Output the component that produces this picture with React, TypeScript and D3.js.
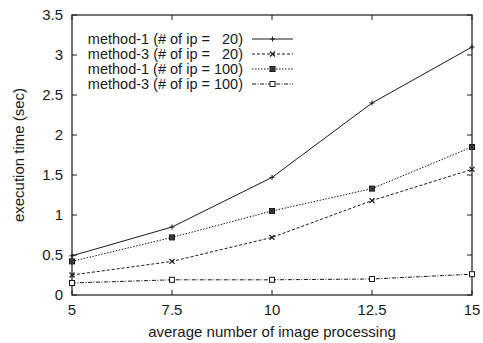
import React, { useEffect, useRef } from 'react';
import * as d3 from 'd3';

// dimensiones y márgenes
const W = 483;
const H = 343;
const margin = { top: 15, right: 11, bottom: 48, left: 72 };
const width = W - margin.left - margin.right;
const height = H - margin.top - margin.bottom;

// datos
const xValues = [5, 7.5, 10, 12.5, 15];
const m1ip20 = [0.49, 0.85, 1.47, 2.4, 3.1];
const m3ip20 = [0.25, 0.42, 0.72, 1.18, 1.57];
const m1ip100 = [0.42, 0.72, 1.05, 1.33, 1.85];
const m3ip100 = [0.15, 0.19, 0.19, 0.2, 0.26];

const xTicks = [5, 7.5, 10, 12.5, 15];
const yTicks = [0, 0.5, 1, 1.5, 2, 2.5, 3, 3.5];

const seriesNames = [
  'method-1 (# of ip =   20)',
  'method-3 (# of ip =   20)',
  'method-1 (# of ip = 100)',
  'method-3 (# of ip = 100)',
];

const series = [
  { name: seriesNames[0], values: m1ip20, dash: null, marker: 'plus' },
  { name: seriesNames[1], values: m3ip20, dash: '3,2', marker: 'cross' },
  { name: seriesNames[2], values: m1ip100, dash: '1.5,1.5', marker: 'boxcross' },
  { name: seriesNames[3], values: m3ip100, dash: '4,1.5,1,1.5', marker: 'box' },
];

const ink = '#1a1a1a';
const font = '"Liberation Sans", Arial, sans-serif';
const fs = '15px';

const App = () => {
  const svgRef = useRef(null);

  useEffect(() => {
    const svg = d3.select(svgRef.current);
    svg.selectAll('*').remove();

    const x = d3.scaleLinear().domain([5, 15]).range([0, width]);
    const y = d3.scaleLinear().domain([0, 3.5]).range([height, 0]);

    const g = svg.append('g').attr('transform', `translate(${margin.left},${margin.top})`);

    // marco
    g.append('rect')
      .attr('width', width).attr('height', height)
      .attr('fill', 'none').attr('stroke', ink).attr('stroke-width', 1.2);

    const tick = 5;
    // ticks eje x (abajo y arriba, hacia dentro)
    xTicks.forEach(t => {
      g.append('line').attr('x1', x(t)).attr('x2', x(t)).attr('y1', height).attr('y2', height - tick).attr('stroke', ink);
      g.append('line').attr('x1', x(t)).attr('x2', x(t)).attr('y1', 0).attr('y2', tick).attr('stroke', ink);
      g.append('text')
        .attr('x', x(t)).attr('y', height + 20)
        .attr('text-anchor', 'middle')
        .style('font-family', font).style('font-size', fs).attr('fill', ink)
        .text(String(t));
    });

    // ticks eje y
    yTicks.forEach(t => {
      g.append('line').attr('x1', 0).attr('x2', tick).attr('y1', y(t)).attr('y2', y(t)).attr('stroke', ink);
      g.append('line').attr('x1', width).attr('x2', width - tick).attr('y1', y(t)).attr('y2', y(t)).attr('stroke', ink);
      g.append('text')
        .attr('x', -9).attr('y', y(t)).attr('dy', '0.35em')
        .attr('text-anchor', 'end')
        .style('font-family', font).style('font-size', fs).attr('fill', ink)
        .text(String(t));
    });

    // títulos de ejes
    svg.append('text')
      .attr('x', margin.left + width / 2).attr('y', H - 6)
      .attr('text-anchor', 'middle')
      .style('font-family', font).style('font-size', fs).attr('fill', ink)
      .text('average number of image processing');

    svg.append('text')
      .attr('transform', `translate(24,${margin.top + height / 2}) rotate(-90)`)
      .attr('text-anchor', 'middle')
      .style('font-family', font).style('font-size', fs).attr('fill', ink)
      .text('execution time (sec)');

    // marcadores
    const drawMarker = (sel, type, cx, cy) => {
      const s = 2.5;
      if (type === 'plus') {
        sel.append('path').attr('d', `M${cx - s},${cy}H${cx + s}M${cx},${cy - s}V${cy + s}`)
          .attr('stroke', ink).attr('fill', 'none');
      } else if (type === 'cross') {
        sel.append('path').attr('d', `M${cx - s},${cy - s}L${cx + s},${cy + s}M${cx - s},${cy + s}L${cx + s},${cy - s}`)
          .attr('stroke', ink).attr('fill', 'none').attr('stroke-width', 1.3);
      } else if (type === 'boxcross') {
        sel.append('rect').attr('x', cx - s).attr('y', cy - s).attr('width', 2 * s).attr('height', 2 * s)
          .attr('stroke', ink).attr('fill', '#555');
        sel.append('path').attr('d', `M${cx - s},${cy - s}L${cx + s},${cy + s}M${cx - s},${cy + s}L${cx + s},${cy - s}`)
          .attr('stroke', ink).attr('fill', 'none');
      } else {
        sel.append('rect').attr('x', cx - s).attr('y', cy - s).attr('width', 2 * s).attr('height', 2 * s)
          .attr('stroke', ink).attr('fill', 'white');
      }
    };

    const line = d3.line().x(d => x(d[0])).y(d => y(d[1]));

    series.forEach(s => {
      const pts = xValues.map((v, i) => [v, s.values[i]]);
      g.append('path')
        .datum(pts)
        .attr('d', line)
        .attr('fill', 'none')
        .attr('stroke', ink)
        .attr('stroke-width', 1)
        .attr('stroke-dasharray', s.dash);
      pts.forEach(p => drawMarker(g, s.marker, x(p[0]), y(p[1])));
    });

    // leyenda
    const legX = 243 - margin.left;
    const legY0 = 39 - margin.top;
    series.forEach((s, i) => {
      const ly = legY0 + i * 15;
      g.append('text')
        .attr('x', legX).attr('y', ly).attr('dy', '0.35em')
        .attr('text-anchor', 'end')
        .style('font-family', font).style('font-size', '14.5px').style('white-space', 'pre')
        .attr('fill', ink)
        .text(s.name);
      g.append('line')
        .attr('x1', legX + 9).attr('x2', legX + 50)
        .attr('y1', ly).attr('y2', ly)
        .attr('stroke', ink).attr('stroke-dasharray', s.dash);
      drawMarker(g, s.marker, legX + 29.5, ly);
    });
  }, []);

  return (
    <svg ref={svgRef} width={W} height={H}
      style={{ position: 'absolute', left: 0, top: 0, background: 'white' }} />
  );
};

export default App;
